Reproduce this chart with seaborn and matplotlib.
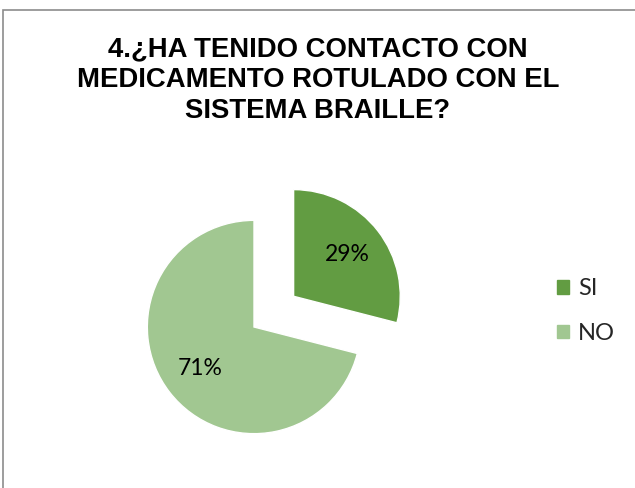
import matplotlib
matplotlib.use("Agg")
import matplotlib.pyplot as plt
import matplotlib.patches as mpatches
import seaborn as sns

# Estilo blanco sin rejilla
sns.set_theme(style="white")
plt.rcParams['font.family'] = ['Liberation Sans', 'DejaVu Sans']

# Datos de la encuesta
respuestas = ["SI", "NO"]
porcentajes = [29, 71]
colores = ["#629C42", "#A1C791"]
titulo = "4.¿HA TENIDO CONTACTO CON\nMEDICAMENTO ROTULADO CON EL\nSISTEMA BRAILLE?"

fig = plt.figure(figsize=(6.35, 4.88), dpi=100)
W, H = 635, 488

# Marco gris alrededor del grafico
marco = mpatches.Rectangle((3 / W, -0.05), 1.1, 1 - 10 / H + 0.05,
                           transform=fig.transFigure, fill=False,
                           edgecolor="#8c8c8c", linewidth=1.2)
fig.patches.append(marco)

# Titulo
fig.text(318 / W, 1 - 80 / H, titulo, ha="center", va="center",
         fontsize=19.8, fontweight="bold", linespacing=1.23, color="black")

# Pastel
ax = fig.add_axes([94 / W, 1 / H, 320 / W, 320 / H])
wedges, texts, autotexts = ax.pie(
    porcentajes,
    colors=colores,
    startangle=90,
    counterclock=False,
    explode=[0.47, 0],
    autopct="%1.0f%%",
    pctdistance=0.64,
    textprops={"fontsize": 16.5, "family": ["Lato", "DejaVu Sans"], "color": "black"},
)
ax.set_xlim(-1.5, 1.5)
ax.set_ylim(-1.5, 1.5)
ax.set_aspect("equal")
ax.axis("off")

# Leyenda a la derecha
handles = [mpatches.Patch(color=c, label=r) for c, r in zip(colores, respuestas)]
fig.legend(handles=handles, loc="center left", bbox_to_anchor=(557 / W, 1 - 311 / H),
           frameon=False, handlelength=0.5, handleheight=0.5,
           labelspacing=1.0, handletextpad=0.4, borderpad=0, borderaxespad=0,
           prop={"family": ["Lato", "DejaVu Sans"], "size": 17})

fig.savefig("out.png", dpi=100)
